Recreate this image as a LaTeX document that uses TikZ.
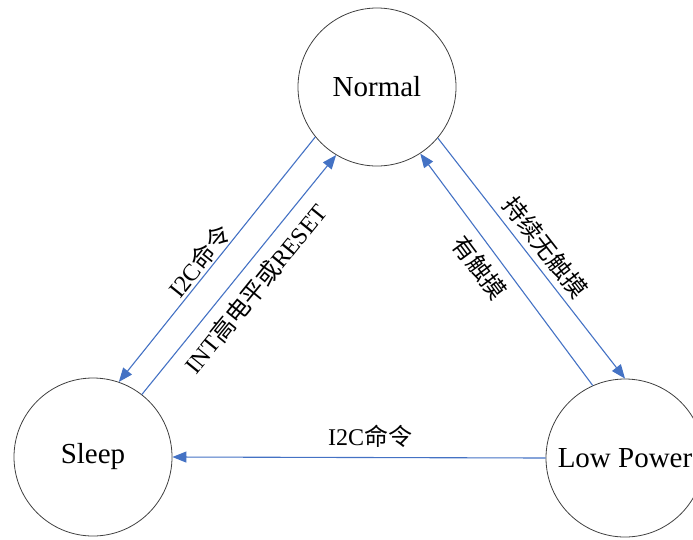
\documentclass[tikz,border=0pt]{standalone}
\usepackage{fontspec}
\setmainfont{Liberation Serif}
\newfontfamily\cjk{Noto Sans CJK SC}
\usetikzlibrary{arrows.meta}
\definecolor{flowblue}{RGB}{68,114,196}

\begin{document}
\begin{tikzpicture}[x=1pt,y=-1pt,
        state/.style={draw=black!75,line width=0.8pt,circle,minimum size=158pt,inner sep=0pt,font=\fontsize{29}{29}\selectfont},
        flow/.style={flowblue,line width=1.1pt,-{Triangle[length=14pt,width=11pt]}},
        lbl/.style={black,inner sep=0pt,sloped,font=\fontsize{24}{24}\selectfont}]
            \useasboundingbox (0,0) rectangle (693,539);
            \node[state] (normal) at (377,87) {Normal};
            \node[state] (sleep) at (93,457) {Sleep};
            \node[state] (lowpower) at (625,458) {Low Power};
            \draw[flow] (normal.219) -- node[lbl,pos=0.54,above=1pt]{I2C{\cjk 命令}} (sleep.71);
            \draw[flow] (sleep.52) -- node[lbl,pos=0.5,below=10pt]{INT{\cjk 高电平或}RESET} (normal.239);
            \draw[flow] (normal.320) -- node[lbl,pos=0.5,above=6pt]{\cjk 持续无触摸} (lowpower.90);
            \draw[flow] (lowpower.114) -- node[lbl,pos=0.56,below=9pt]{\cjk 有触摸} (normal.303);
            \draw[flow] (lowpower.180) -- node[lbl,pos=0.47,above=9pt]{I2C{\cjk 命令}} (sleep.0);
        \end{tikzpicture}
\end{document}
